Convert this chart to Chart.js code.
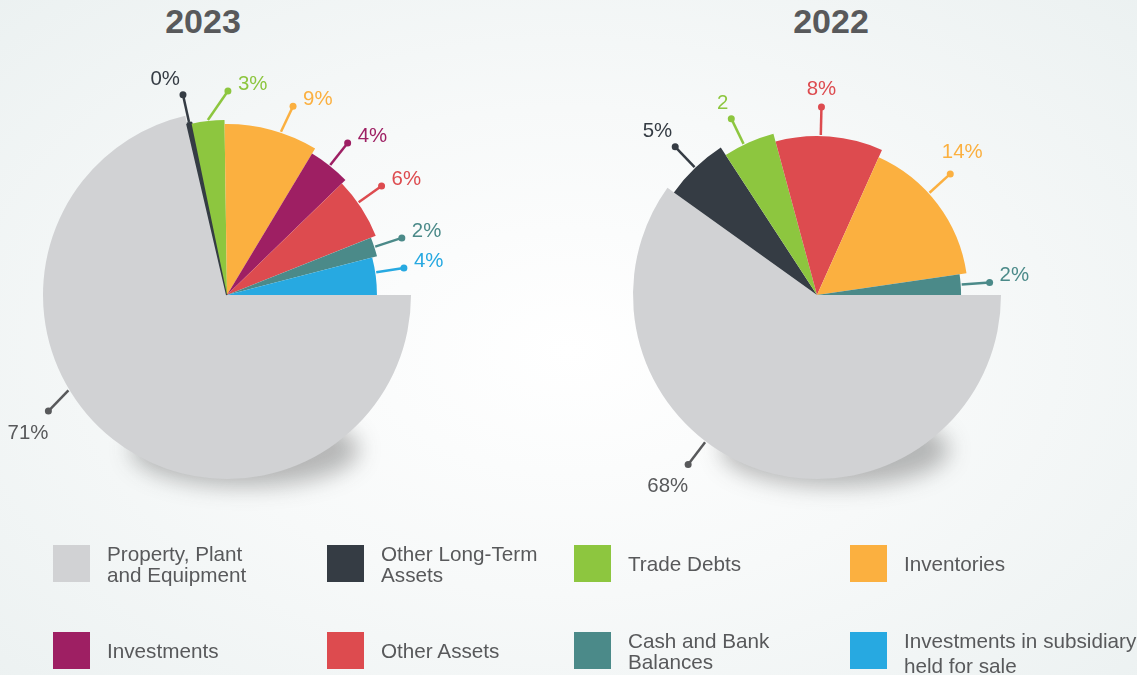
<!DOCTYPE html>
<html lang="en">
<head>
  <meta charset="UTF-8" />
  <title>Asset Mix 2023 vs 2022</title>
  <script src="https://cdn.jsdelivr.net/npm/chart.js"></script>
  <style>
    html, body { margin: 0; width: 1137px; height: 675px; overflow: hidden; }
    body {
      position: relative;
      font-family: 'Liberation Sans', Arial, sans-serif;
      color: #58595b;
      background: radial-gradient(ellipse 75% 80% at 50% 52%, #ffffff 0%, #f7f9f9 45%, #eaf0f0 100%);
    }
    canvas { position: absolute; left: 0; top: 0; }
    .title { position: absolute; top: 4px; width: 200px; text-align: center; font-size: 34px; font-weight: bold; line-height: 34px; color: #58595b; }
    .item { position: absolute; height: 37px; display: flex; align-items: center; }
    .item .box { width: 37px; height: 37px; flex: none; }
    .item .txt { margin-left: 17px; font-size: 20.7px; line-height: 21px; white-space: nowrap; }
  </style>
</head>
<body>
  <div class="title" style="left:103px">2023</div>
  <div class="title" style="left:731px">2022</div>

  <canvas id="pie2023" width="1137" height="675"></canvas>
  <canvas id="pie2022" width="1137" height="675"></canvas>

  <div id="legend"></div>

  <script>
    // categories + colours (legend order)
    const categories = ['Property, Plant and Equipment', 'Other Long-Term Assets', 'Trade Debts', 'Inventories',
      'Investments', 'Other Assets', 'Cash and Bank Balances', 'Investments in subsidiary held for sale'];
    const catColors = ['#d1d2d4', '#353c44', '#8dc63f', '#fbb040', '#9e1f63', '#dd4b4f', '#4b8a89', '#27a9e1'];
    const legendLines = [['Property, Plant', 'and Equipment'], ['Other Long-Term', 'Assets'], ['Trade Debts'], ['Inventories'],
      ['Investments'], ['Other Assets'], ['Cash and Bank', 'Balances'], ['Investments in subsidiary', 'held for sale']];

    // 2023, clockwise from 3 o'clock
    const slices2023 = ['Property, Plant and Equipment', 'Other Long-Term Assets', 'Trade Debts', 'Inventories',
      'Investments', 'Other Assets', 'Cash and Bank Balances', 'Investments in subsidiary held for sale'];
    const values2023 = [71.0, 0.4, 3.0, 8.8, 4.1, 6.2, 2.0, 4.0];
    const texts2023 = ['71%', '0%', '3%', '9%', '4%', '6%', '2%', '4%'];

    // 2022, clockwise from 3 o'clock
    const slices2022 = ['Property, Plant and Equipment', 'Other Long-Term Assets', 'Trade Debts', 'Other Assets',
      'Inventories', 'Cash and Bank Balances'];
    const values2022 = [59.9, 5.9, 5.0, 10.9, 16.0, 2.3];
    const texts2022 = ['68%', '5%', '2', '8%', '14%', '2%'];

    const PIE_R = 184;
    const colorOf = name => catColors[categories.indexOf(name)];

    // per-slice look: outer radius share, leader position, label side
    const look2023 = {
      reach: [1, 0.957, 0.951, 0.929, 0.897, 0.87, 0.842, 0.815],
      at: [0.58, 0.5, 0.5, 0.6, 0.5, 0.4, 0.5, 0.4],
      turn: [-2, 0, 6.5, 1, 0, 0, 0, 0],
      place: ['belowLeft', 'aboveLeft', 'right', 'right', 'right', 'right', 'right', 'right']
    };
    const look2022 = {
      reach: [1, 0.957, 0.908, 0.864, 0.821, 0.783],
      at: [0.59, 0.5, 0.4, 0.42, 0.41, 0.5],
      turn: [0, 0, 0, 0, 0, 0],
      place: ['belowLeft', 'aboveLeft', 'aboveLeft', 'above', 'aboveRight', 'right']
    };

    function pieDecor(look, texts, colors) {
      return {
        id: 'pieDecor',
        afterDatasetsUpdate(chart) {
          chart.getDatasetMeta(0).data.forEach((arc, i) => { arc.outerRadius = PIE_R * look.reach[i]; });
        },
        beforeDatasetsDraw(chart) {
          // soft floor shadow under the pie
          const ctx = chart.ctx, arc = chart.getDatasetMeta(0).data[0];
          ctx.save();
          ctx.filter = 'blur(11px)';
          ctx.fillStyle = 'rgba(40,40,40,0.32)';
          ctx.beginPath();
          ctx.ellipse(arc.x + 18, arc.y + PIE_R * 0.84, PIE_R * 0.62, PIE_R * 0.2, 0, 0, Math.PI * 2);
          ctx.fill();
          ctx.restore();
        },
        afterDatasetsDraw(chart) {
          const ctx = chart.ctx;
          ctx.save();
          ctx.font = '20.4px "Liberation Sans", Arial, sans-serif';
          ctx.textBaseline = 'middle';
          chart.getDatasetMeta(0).data.forEach((arc, i) => {
            const a0 = arc.startAngle + (arc.endAngle - arc.startAngle) * look.at[i];
            const a1 = a0 + look.turn[i] * Math.PI / 180;
            const r = arc.outerRadius;
            const x0 = arc.x + Math.cos(a0) * (r + 1), y0 = arc.y + Math.sin(a0) * (r + 1);
            const x1 = arc.x + Math.cos(a1) * (r + 29), y1 = arc.y + Math.sin(a1) * (r + 29);
            const col = i === 0 ? '#58595b' : colors[i];
            ctx.strokeStyle = col;
            ctx.fillStyle = col;
            ctx.lineWidth = 2.5;
            ctx.beginPath();
            ctx.moveTo(x0, y0);
            ctx.lineTo(x1, y1);
            ctx.stroke();
            ctx.beginPath();
            ctx.arc(x1, y1, 3.5, 0, Math.PI * 2);
            ctx.fill();

            let tx = x1, ty = y1;
            switch (look.place[i]) {
              case 'right': ctx.textAlign = 'left'; tx += 10; ty -= 7; break;
              case 'aboveLeft': ctx.textAlign = 'right'; tx -= 3; ty -= 15; break;
              case 'above': ctx.textAlign = 'center'; ty -= 18; break;
              case 'aboveRight': ctx.textAlign = 'center'; tx += 12; ty -= 22; break;
              case 'belowLeft': ctx.textAlign = 'right'; ty += 22; break;
            }
            ctx.fillText(texts[i], tx, ty);
          });
          ctx.restore();
        }
      };
    }

    function makePie(canvasId, names, values, texts, look, padding) {
      const colors = names.map(colorOf);
      return new Chart(document.getElementById(canvasId), {
        type: 'pie',
        data: {
          labels: names,
          datasets: [{
            data: values,
            backgroundColor: colors,
            borderColor: colors,
            borderWidth: names.map((n, i) => n === 'Other Long-Term Assets' && values[i] < 1 ? 2 : 0)
          }]
        },
        options: {
          responsive: false,
          animation: false,
          events: [],
          rotation: 90,
          radius: PIE_R,
          layout: { padding: padding },
          plugins: { legend: { display: false }, tooltip: { enabled: false } }
        },
        plugins: [pieDecor(look, texts, colors)]
      });
    }

    makePie('pie2023', slices2023, values2023, texts2023, look2023, { left: 0, right: 683, top: 0, bottom: 85 });
    makePie('pie2022', slices2022, values2022, texts2022, look2022, { left: 497, right: 0, top: 0, bottom: 85 });

    // legend grid
    const legendX = [53, 327, 574, 850];
    const legendY = [545, 632];
    const legend = document.getElementById('legend');
    categories.forEach((name, i) => {
      const el = document.createElement('div');
      el.className = 'item';
      el.style.left = legendX[i % 4] + 'px';
      el.style.top = legendY[Math.floor(i / 4)] + 'px';
      const lh = i === 7 ? 'style="line-height:25px;margin-top:4px"' : '';
      el.innerHTML = `<div class="box" style="background:${catColors[i]}"></div><div class="txt" ${lh}>${legendLines[i].join('<br>')}</div>`;
      legend.appendChild(el);
    });
  </script>
</body>
</html>
